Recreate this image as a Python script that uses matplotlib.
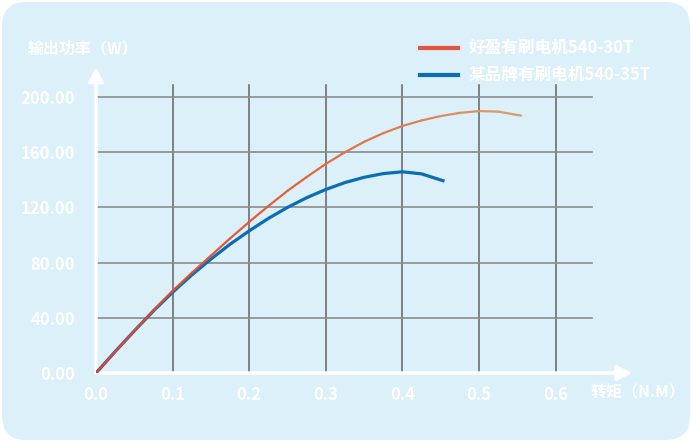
import numpy as np
import matplotlib.pyplot as plt
from matplotlib.collections import LineCollection
from matplotlib.patches import FancyBboxPatch
from matplotlib.colors import LinearSegmentedColormap

plt.rcParams['font.family'] = ['Noto Sans CJK SC', 'DejaVu Sans']

# values
torque_a = [0, 0.025, 0.05, 0.075, 0.1, 0.125, 0.15, 0.175, 0.2, 0.225, 0.25, 0.275,
            0.3, 0.325, 0.35, 0.375, 0.4, 0.425, 0.45, 0.475, 0.5, 0.525, 0.555]
power_a = [0, 15.5, 30.5, 45.5, 59.5, 72.5, 85, 97.5, 109.5, 121, 132, 142,
           151.5, 160, 167.5, 173.8, 179, 183, 186.2, 188.5, 189.8, 189.4, 186.5]
torque_b = [0, 0.025, 0.05, 0.075, 0.1, 0.125, 0.15, 0.175, 0.2, 0.225, 0.25, 0.275,
            0.3, 0.325, 0.35, 0.375, 0.4, 0.425, 0.455]
power_b = [0, 15.5, 30.5, 45, 58.5, 71, 82.5, 93.3, 103, 112, 120, 127,
           133, 138, 141.8, 144.5, 145.8, 144.3, 139]
name_a = "好盈有刷电机540-30T"
name_b = "某品牌有刷电机540-35T"
x_ticks = [0.0, 0.1, 0.2, 0.3, 0.4, 0.5, 0.6]
y_ticks = [0, 40, 80, 120, 160, 200]

W, H = 692, 442
fig = plt.figure(figsize=(W / 100, H / 100), dpi=100, facecolor='white')
bg = FancyBboxPatch((2 / W, 2 / H), 1 - 4 / W, 1 - 4 / H,
                    boxstyle="round,pad=0,rounding_size=0.035",
                    transform=fig.transFigure, facecolor='#dcf0f9',
                    edgecolor='none', mutation_aspect=W / H, zorder=-10)
fig.patches.append(bg)

# axes: data origin at px (96, 373)
x0, y0 = 96, 373
px_x = 766.0   # px per unit torque
px_y = 1.38    # px per watt
xmax, ymax = 0.70, 222
ax = fig.add_axes([x0 / W, (H - y0) / H, xmax * px_x / W, ymax * px_y / H])
ax.set_xlim(0, xmax)
ax.set_ylim(0, ymax)
ax.patch.set_alpha(0)
for s in ax.spines.values():
    s.set_visible(False)

grid_top = 209
grid_right = 0.647
for t in x_ticks[1:]:
    ax.plot([t, t], [0, grid_top], color='#6e6e6e', lw=1.2, zorder=1)
for v in y_ticks[1:]:
    ax.plot([0, grid_right], [v, v], color='#8c8c8c', lw=1.2, zorder=1)

# axis arrows
ax.annotate('', xy=(0, ymax), xytext=(0, 0),
            arrowprops=dict(arrowstyle='-|>', color='white', lw=2.5, mutation_scale=22, shrinkA=0, shrinkB=0),
            annotation_clip=False)
ax.annotate('', xy=(xmax, 0), xytext=(0, 0),
            arrowprops=dict(arrowstyle='-|>', color='white', lw=2.5, mutation_scale=22, shrinkA=0, shrinkB=0),
            annotation_clip=False)

# blue line
ax.plot(torque_b, power_b, color='#0b6db5', lw=2.3, zorder=3, solid_capstyle='butt')

# gradient orange line
xa = np.array(torque_a)
ya = np.array(power_a)
pts = np.column_stack([xa, ya]).reshape(-1, 1, 2)
segs = np.concatenate([pts[:-1], pts[1:]], axis=1)
cmap = LinearSegmentedColormap.from_list('grad', ['#e2412a', '#e2663d', '#d99c6c'])
lc = LineCollection(segs, cmap=cmap, linewidths=1.6, zorder=4, capstyle='round')
lc.set_array(xa[:-1] / xa.max())
ax.add_collection(lc)

ax.set_xticks(x_ticks)
ax.set_xticklabels([f"{t:.1f}" for t in x_ticks])
ax.set_yticks(y_ticks)
ax.set_yticklabels([f"{v:.2f}" for v in y_ticks])
ax.tick_params(length=0, colors='white', labelsize=12)
ax.tick_params(axis='x', pad=9)
ax.tick_params(axis='y', pad=15)
for lab in ax.get_xticklabels() + ax.get_yticklabels():
    lab.set_fontweight('bold')

fig.text(28 / W, 1 - 48 / H, "输出功率（W）", color='white', fontsize=11.5,
         ha='left', va='center', fontweight='bold')
fig.text(591 / W, 1 - 392 / H, "转矩（N.M）", color='white', fontsize=11.5,
         ha='left', va='center', fontweight='bold')

# legend drawn by hand
lx0, lx1, tx = 420 / W, 458 / W, 469 / W
for yy, col, name in [(48, '#e2553a', name_a), (75, '#0b6db5', name_b)]:
    fig.add_artist(plt.Line2D([lx0, lx1], [1 - yy / H, 1 - yy / H], color=col, lw=3,
                              transform=fig.transFigure))
    fig.text(tx, 1 - yy / H, name, color='white', fontsize=12, ha='left', va='center',
             fontweight='bold')

fig.savefig('out.png', dpi=100, facecolor='white')
